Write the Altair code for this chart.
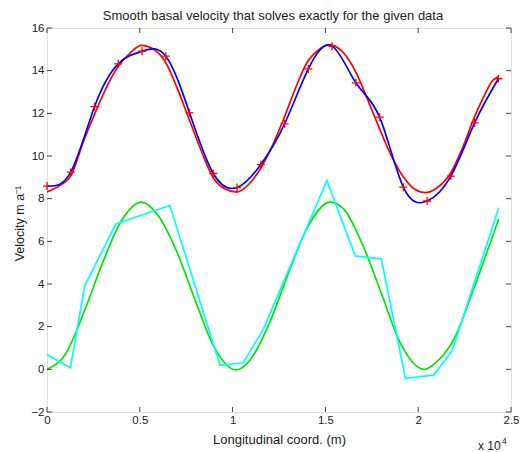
import altair as alt
import pandas as pd

# ---- data (x in metres) ----
# measured data points (red + markers, blue curve passes through them)
data_x = [0, 1280, 2560, 3840, 5120, 6400, 7680, 8960, 10240, 11520,
          12800, 14080, 15360, 16640, 17920, 19200, 20480, 21760, 23040, 24320]
data_v = [8.59, 9.24, 12.31, 14.32, 14.91, 14.68, 12.02, 9.18, 8.52, 9.6,
          11.51, 14.08, 15.15, 13.43, 11.82, 8.54, 7.89, 9.06, 11.55, 13.62]

# smooth red curve
red_x = [0, 660, 1320, 1940, 2630, 3250, 3870, 4500, 5090, 5750, 6410, 7050,
         7700, 8330, 8960, 9600, 10220, 10900, 11530, 12100, 12740, 13400,
         14000, 14600, 15160, 15900, 16660, 17250, 17860, 18500, 19180, 19800,
         20380, 21000, 21730, 22350, 22990, 23600, 23980, 24310]
red_v = [8.32, 8.6, 9.13, 10.62, 12.1, 13.3, 14.24, 14.85, 15.19, 15.0, 14.36, 13.1,
         11.63, 10.2, 8.98, 8.45, 8.31, 8.7, 9.45, 10.4, 11.71, 13.2,
         14.37, 14.95, 15.22, 14.9, 13.9, 12.7, 11.4, 10.1, 9.05, 8.45,
         8.28, 8.5, 9.18, 10.3, 11.74, 12.9, 13.5, 13.71]

# smooth green curve
green_x = [0, 1000, 2000, 3000, 4000, 5090, 6000, 7000, 8000, 9000, 10180,
           11000, 12000, 13000, 14000, 15260, 16000, 17000, 18000, 19000,
           20330, 21000, 22000, 23000, 24340]
green_v = [0.0, 0.72, 2.7, 5.0, 6.95, 7.84, 7.2, 5.5, 3.2, 1.05, -0.03,
           0.5, 2.2, 4.5, 6.6, 7.84, 7.5, 5.85, 3.6, 1.3, 0.0,
           0.35, 1.55, 3.8, 7.06]

# jagged cyan curve
cyan_x = [0, 1260, 2030, 3710, 6620, 9320, 10580, 11640, 15080, 16610,
          18010, 19310, 20830, 21820, 24340]
cyan_v = [0.70, 0.08, 3.90, 6.82, 7.68, 0.19, 0.31, 1.85, 8.85, 5.31,
          5.18, -0.42, -0.27, 0.86, 7.57]

x_ticks = [0, 5000, 10000, 15000, 20000, 25000]
y_ticks = [-2, 0, 2, 4, 6, 8, 10, 12, 14, 16]

title = "Smooth basal velocity that solves exactly for the given data"
x_title = "Longitudinal coord. (m)"
y_title = "Velocity m a\u207b\u00b9"

W, H = 464, 384
FONT = "Liberation Sans"
TXT = "#222"

xscale = alt.Scale(domain=[0, 25000], nice=False, zero=False)
yscale = alt.Scale(domain=[-2, 16], nice=False, zero=False)

xaxis = alt.Axis(values=x_ticks, labelExpr="datum.value / 10000", grid=False,
                 ticks=False, tickSize=0, domain=False, labelPadding=2,
                 labelFont=FONT, labelFontSize=11.5, labelColor=TXT,
                 title=x_title, titleFont=FONT, titleFontSize=13,
                 titleFontWeight="normal", titleColor=TXT,
                 titleBaseline="alphabetic", titleY=31, labelFlush=False)
yaxis = alt.Axis(values=y_ticks, grid=False, ticks=False, tickSize=0,
                 domain=False, labelPadding=3, labelFont=FONT,
                 labelFontSize=11.5, labelColor=TXT,
                 title=y_title, titleFont=FONT, titleFontSize=12.5,
                 titleFontWeight="normal", titleColor=TXT,
                 titleX=-24, titleY=H / 2 + 3, titleAngle=-90,
                 titleBaseline="alphabetic", labelFlush=False)

X = alt.X("x:Q", scale=xscale, axis=xaxis)
Y = alt.Y("y:Q", scale=yscale, axis=yaxis)

def df(xs, ys):
    return pd.DataFrame({"x": xs, "y": ys})

green = alt.Chart(df(green_x, green_v)).mark_line(
    color="#00e600", strokeWidth=1.7, interpolate="monotone").encode(x=X, y=Y)
cyan = alt.Chart(df(cyan_x, cyan_v)).mark_line(
    color="#00ffff", strokeWidth=1.7).encode(x=X, y=Y)
red = alt.Chart(df(red_x, red_v)).mark_line(
    color="#ff0000", strokeWidth=1.7, interpolate="monotone").encode(x=X, y=Y)
blue = alt.Chart(df(data_x, data_v)).mark_line(
    color="#0000ff", strokeWidth=1.7, interpolate="natural").encode(x=X, y=Y)
marks = alt.Chart(df(data_x, data_v)).mark_point(
    shape="M-1,0L1,0M0,-1L0,1", filled=False, color="#ff0000",
    strokeWidth=1.3, size=64, opacity=1).encode(x=X, y=Y)

xt = pd.DataFrame({"x": x_ticks})
yt = pd.DataFrame({"y": y_ticks})
tick_col = "#444"
xb = alt.Chart(xt).mark_rule(color=tick_col, strokeWidth=1).encode(
    x=X, y=alt.value(H), y2=alt.value(H - 5))
xtop = alt.Chart(xt).mark_rule(color=tick_col, strokeWidth=1).encode(
    x=X, y=alt.value(0), y2=alt.value(5))
yl = alt.Chart(yt).mark_rule(color=tick_col, strokeWidth=1).encode(
    y=Y, x=alt.value(0), x2=alt.value(5))
yr = alt.Chart(yt).mark_rule(color=tick_col, strokeWidth=1).encode(
    y=Y, x=alt.value(W), x2=alt.value(W - 5))

tdf = pd.DataFrame({"t": [title]})
title_mark = alt.Chart(tdf).mark_text(
    font=FONT, fontSize=13, color=TXT, baseline="alphabetic",
    align="center").encode(text="t:N", x=alt.value(226), y=alt.value(-8))

mdf = pd.DataFrame({"a": ["x 10"], "b": ["4"]})
mult = alt.Chart(mdf).mark_text(
    font=FONT, fontSize=12, color=TXT, baseline="alphabetic",
    align="left").encode(text="a:N", x=alt.value(431), y=alt.value(H + 38))
mult_exp = alt.Chart(mdf).mark_text(
    font=FONT, fontSize=8.5, color=TXT, baseline="alphabetic",
    align="left").encode(text="b:N", x=alt.value(455), y=alt.value(H + 32))

chart = alt.layer(
    green, cyan, red, blue, marks, xb, xtop, yl, yr, title_mark, mult, mult_exp
).properties(
    width=W, height=H,
    padding={"left": 39, "top": 20, "right": 10, "bottom": 40},
    autosize=alt.AutoSizeParams(type="none"),
).configure_view(stroke="#555", strokeWidth=1).configure(background="white")

chart.save("out.html", embed_options={"renderer": "svg", "actions": False})
